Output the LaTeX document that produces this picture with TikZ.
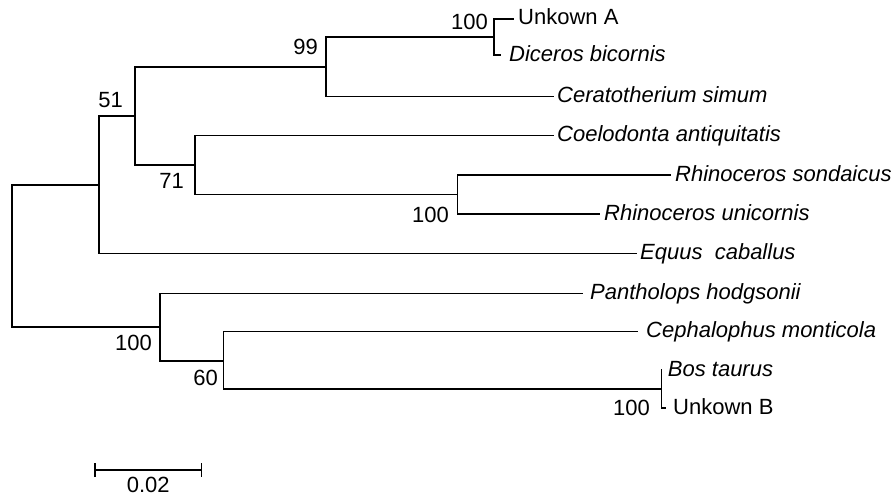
\documentclass[tikz,border=0pt]{standalone}
\usepackage{fontspec}
\setmainfont{Liberation Sans}
\usetikzlibrary{arrows.meta}
\begin{document}
\begin{tikzpicture}[x=1pt,y=-1pt,
  branch/.style={line width=1.5pt,line cap=rect},
  leaf/.style={anchor=base west,inner sep=0pt,font=\fontsize{22}{26}\selectfont\itshape},
  leafup/.style={anchor=base west,inner sep=0pt,font=\fontsize{22}{26}\selectfont},
  boot/.style={anchor=base east,inner sep=0pt,font=\fontsize{22}{26}\selectfont}]
\useasboundingbox (0,0) rectangle (893,495);
% internal nodes
\coordinate (root) at (12,256);
\coordinate (nA) at (99,185.2);
\coordinate (nB) at (135,116);
\coordinate (n99) at (326,67);
\coordinate (nUA) at (494,37);
\coordinate (n71) at (195,165);
\coordinate (nR) at (457.7,194.5);
\coordinate (nL) at (160,327);
\coordinate (n60) at (223.3,361.2);
\coordinate (nBos) at (661.7,389);
% leaf tips
\coordinate (tUA) at (513,19);
\coordinate (tDic) at (500,55);
\coordinate (tCer) at (553,96.7);
\coordinate (tCoe) at (553,135.7);
\coordinate (tSon) at (670,175);
\coordinate (tUni) at (599,214);
\coordinate (tEqu) at (636,253.7);
\coordinate (tPan) at (582,293.3);
\coordinate (tCep) at (637,331.7);
\coordinate (tBos) at (661.7,370);
\coordinate (tUB) at (665,408);
% branches
\draw[branch] (nA) -| (root) |- (nL);
\draw[branch] (nA) |- (nB);
\draw[branch] (nA) |- (tEqu);
\draw[branch] (nB) |- (n99);
\draw[branch] (nB) |- (n71);
\draw[branch] (n99) |- (nUA);
\draw[branch] (n99) |- (tCer);
\draw[branch] (nUA) |- (tUA);
\draw[branch] (nUA) |- (tDic);
\draw[branch] (n71) |- (tCoe);
\draw[branch] (n71) |- (nR);
\draw[branch] (nR) |- (tSon);
\draw[branch] (nR) |- (tUni);
\draw[branch] (nL) |- (tPan);
\draw[branch] (nL) |- (n60);
\draw[branch] (n60) |- (tCep);
\draw[branch] (n60) |- (nBos);
\draw[branch] (nBos) |- (tBos);
\draw[branch] (nBos) |- (tUB);
% leaf labels
\node[leafup,xshift=5pt,yshift=-6pt] (lUA) at (tUA) {Unkown A};
\node[leaf,xshift=9pt,yshift=-6pt] (lDic) at (tDic) {Diceros bicornis};
\node[leaf,xshift=4pt,yshift=-6pt] (lCer) at (tCer) {Ceratotherium simum};
\node[leaf,xshift=4pt,yshift=-6pt] (lCoe) at (tCoe) {Coelodonta antiquitatis};
\node[leaf,xshift=5pt,yshift=-6pt] (lSon) at (tSon) {Rhinoceros sondaicus};
\node[leaf,xshift=5pt,yshift=-6pt] (lUni) at (tUni) {Rhinoceros unicornis};
\node[leaf,xshift=4pt,yshift=-6pt] (lEqu) at (tEqu) {Equus\ \ caballus};
\node[leaf,xshift=8pt,yshift=-6pt] (lPan) at (tPan) {Pantholops hodgsonii};
\node[leaf,xshift=9pt,yshift=-6pt] (lCep) at (tCep) {Cephalophus monticola};
\node[leaf,xshift=6pt,yshift=-6pt] (lBos) at (tBos) {Bos taurus};
\node[leafup,xshift=8pt,yshift=-6pt] (lUB) at (tUB) {Unkown B};
% bootstrap values
\node[boot] (b1) at (488,30) {100};
\node[boot] (b2) at (318,55) {99};
\node[boot] (b3) at (123,107) {51};
\node[boot] (b4) at (184,188) {71};
\node[boot] (b5) at (449,222) {100};
\node[boot] (b6) at (152,350) {100};
\node[boot] (b7) at (218,385) {60};
\node[boot] (b8) at (650,415) {100};
% scale bar
\coordinate (sb1) at (94.3,470);
\coordinate (sb2) at (202.3,470);
\draw[branch,line cap=butt,{Bar[width=14pt,line width=1.5pt]}-{Bar[width=14pt,line width=1.5pt]}] (sb1) -- (sb2);
\node[anchor=base,inner sep=0pt,font=\fontsize{22}{26}\selectfont] (sbl) at (148.3,492) {0.02};
\end{tikzpicture}
\end{document}
